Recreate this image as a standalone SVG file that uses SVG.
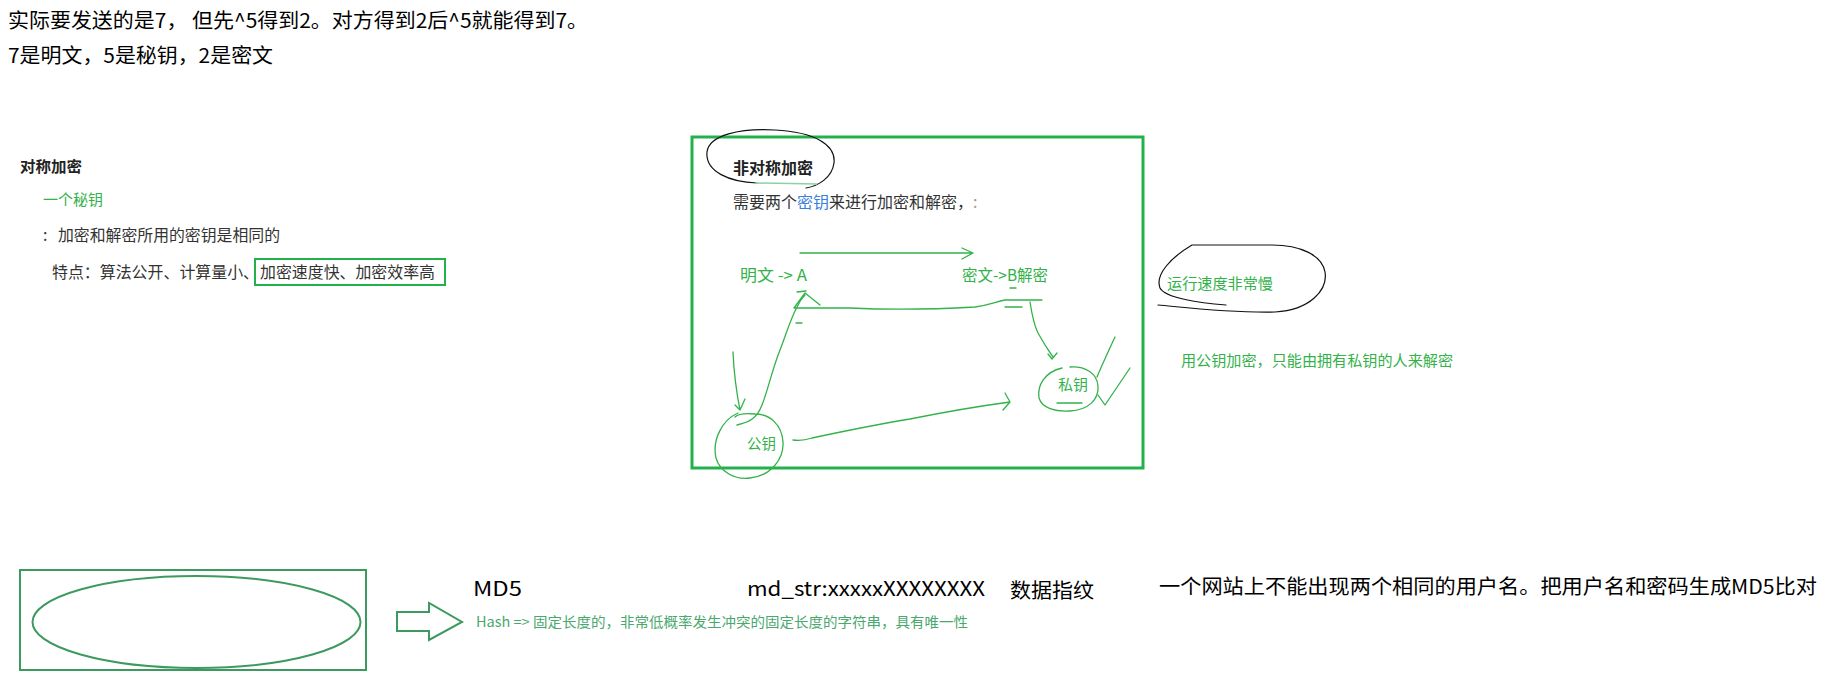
<svg xmlns="http://www.w3.org/2000/svg" width="1829" height="685" viewBox="0 0 1829 685">
<style>
text{font-family:"Noto Sans CJK SC","Noto Sans",sans-serif;}
.blk{fill:#000;font-size:20px;}
.dk{fill:#333;font-size:16px;}
.b{font-weight:bold;fill:#222;}
.gr{fill:#33b24a;font-size:15px;}
.gt{fill:#33b24a;font-size:16px;}
.hash{fill:#4aa86e;font-size:14px;}
.pen{fill:none;stroke:#33b24a;stroke-width:1.3;stroke-linecap:round;stroke-linejoin:round;}
.ink{fill:none;stroke:#111;stroke-width:1.2;stroke-linecap:round;}
</style>
<rect width="1829" height="685" fill="#fff"/>

<g id="intro">
<text class="blk" x="8" y="28" textLength="580" lengthAdjust="spacingAndGlyphs">实际要发送的是7， 但先^5得到2。对方得到2后^5就能得到7。</text>
<text class="blk" x="8" y="63" textLength="265" lengthAdjust="spacingAndGlyphs">7是明文，5是秘钥，2是密文</text>
</g>

<g id="symmetric">
<text class="b" x="20" y="172" font-size="15" textLength="62" lengthAdjust="spacingAndGlyphs">对称加密</text>
<text class="gr" x="43" y="205" textLength="60" lengthAdjust="spacingAndGlyphs">一个秘钥</text>
<text class="dk" x="43" y="241" fill="#999">:</text>
<text class="dk" x="58" y="241" textLength="222" lengthAdjust="spacingAndGlyphs">加密和解密所用的密钥是相同的</text>
<text class="dk" x="52" y="278" textLength="207" lengthAdjust="spacingAndGlyphs">特点：算法公开、计算量小、</text>
<text class="dk" x="260" y="278" textLength="175" lengthAdjust="spacingAndGlyphs">加密速度快、加密效率高</text>
<rect x="255" y="259" width="190" height="26" fill="none" stroke="#22b14c" stroke-width="2"/>
</g>

<g id="asymmetric">
<rect x="692" y="137" width="451" height="331" fill="none" stroke="#22b14c" stroke-width="3"/>
<path class="ink" d="M757 183 C730 182 705 172 707 152 C709 135 740 128 775 130 C815 132 836 145 834 163 C832 178 818 186 806 188"/>
<line x1="755" y1="183" x2="817" y2="184" stroke="#8fd19e" stroke-width="1.5"/>
<text class="b" x="733" y="174" font-size="16" textLength="80" lengthAdjust="spacingAndGlyphs">非对称加密</text>
<text class="dk" x="733" y="208">需要两个<tspan fill="#3a7fe0">密钥</tspan>来进行加密和解密，<tspan fill="#999">:</tspan></text>
</g>

<g id="plaintext-a">
<text class="gt" x="740" y="281" textLength="67" lengthAdjust="spacingAndGlyphs">明文 -&gt; A</text>
</g>
<g id="ciphertext-b">
<text class="gt" x="962" y="281" textLength="86" lengthAdjust="spacingAndGlyphs">密文-&gt;B解密</text>
</g>
<g id="public-key">
<path class="pen" d="M738 413 C722 420 712 440 716 458 C720 472 735 480 750 478 C770 476 784 460 783 442 C782 425 770 414 755 414 C745 413 738 414 735 417"/>
<text class="gr" x="747" y="449" textLength="29" lengthAdjust="spacingAndGlyphs">公钥</text>
</g>
<g id="private-key">
<path class="pen" d="M1062 368 C1045 372 1037 385 1039 398 C1042 408 1055 412 1070 411 C1088 410 1099 400 1098 386 C1097 373 1085 366 1070 367"/>
<text class="gr" x="1058" y="390" textLength="30" lengthAdjust="spacingAndGlyphs">私钥</text>
<line class="pen" x1="1057" y1="403" x2="1082" y2="403"/>
</g>
<g id="slow-note">
<path class="ink" d="M1158 305 C1190 308 1230 313 1275 312 C1310 310 1328 290 1325 272 C1322 255 1300 245 1272 245 L1192 245 C1170 258 1155 275 1160 288 C1165 298 1200 303 1226 305"/>
<text class="gr" x="1167" y="289" textLength="106" lengthAdjust="spacingAndGlyphs">运行速度非常慢</text>
</g>
<g id="note-public">
<text class="gr" x="1181" y="366" textLength="272" lengthAdjust="spacingAndGlyphs">用公钥加密，只能由拥有私钥的人来解密</text>
</g>

<g id="connectors">
<path class="pen" d="M800 253 L973 253 M962 248 L973 253 L962 259"/>
<path class="pen" d="M1042 300 L1005 300 C995 302 990 305 975 307 C940 309 890 310 850 308 L794 308 M794 308 L805 293 L820 305 M797 292 L806 291"/>
<path class="pen" d="M1005 307 L1022 307 M1010 288 L1016 288 M796 323 L802 323"/>
<path class="pen" d="M737 425 C750 422 757 418 762 405 C768 390 772 370 780 350 C786 335 790 320 797 307 C800 300 803 297 805 295"/>
<path class="pen" d="M733 352 C734 375 737 395 740 410 M735 405 L740 410 L745 399"/>
<path class="pen" d="M793 440 C800 441 806 440 812 438 C840 432 880 424 910 419 C945 412 980 406 1010 402 M1005 393 L1010 402 L1003 410"/>
<path class="pen" d="M1030 302 C1032 315 1034 325 1038 333 C1043 342 1048 350 1053 357 M1048 354 L1052 359 L1057 353"/>
<path class="pen" d="M1115 337 C1108 352 1102 365 1097 377 M1098 395 L1105 405 L1130 368"/>
</g>

<g id="hash-input">
<rect x="20" y="570" width="346" height="100" fill="none" stroke="#3d9a5e" stroke-width="2"/>
<ellipse cx="196.5" cy="622" rx="164" ry="46" fill="none" stroke="#3d9a5e" stroke-width="2"/>
</g>
<g id="connector-block">
<polygon points="397,612 429,612 429,603 462,622 429,640 429,631 397,631" fill="none" stroke="#3d9a5e" stroke-width="2"/>
</g>
<g id="md5">
<text class="blk" x="473" y="596" font-size="22" textLength="49" lengthAdjust="spacingAndGlyphs">MD5</text>
<text class="hash" x="476" y="627" textLength="492" lengthAdjust="spacingAndGlyphs">Hash =&gt; 固定长度的，非常低概率发生冲突的固定长度的字符串，具有唯一性</text>
<text class="blk" x="747" y="596" font-size="22" textLength="238" lengthAdjust="spacingAndGlyphs">md_str:xxxxxXXXXXXXX</text>
<text class="blk" x="1010" y="598" font-size="21" textLength="84" lengthAdjust="spacingAndGlyphs">数据指纹</text>
</g>
<g id="username-note">
<text class="blk" x="1159" y="594" font-size="20" textLength="658" lengthAdjust="spacingAndGlyphs">一个网站上不能出现两个相同的用户名。把用户名和密码生成MD5比对</text>
</g>
</svg>
